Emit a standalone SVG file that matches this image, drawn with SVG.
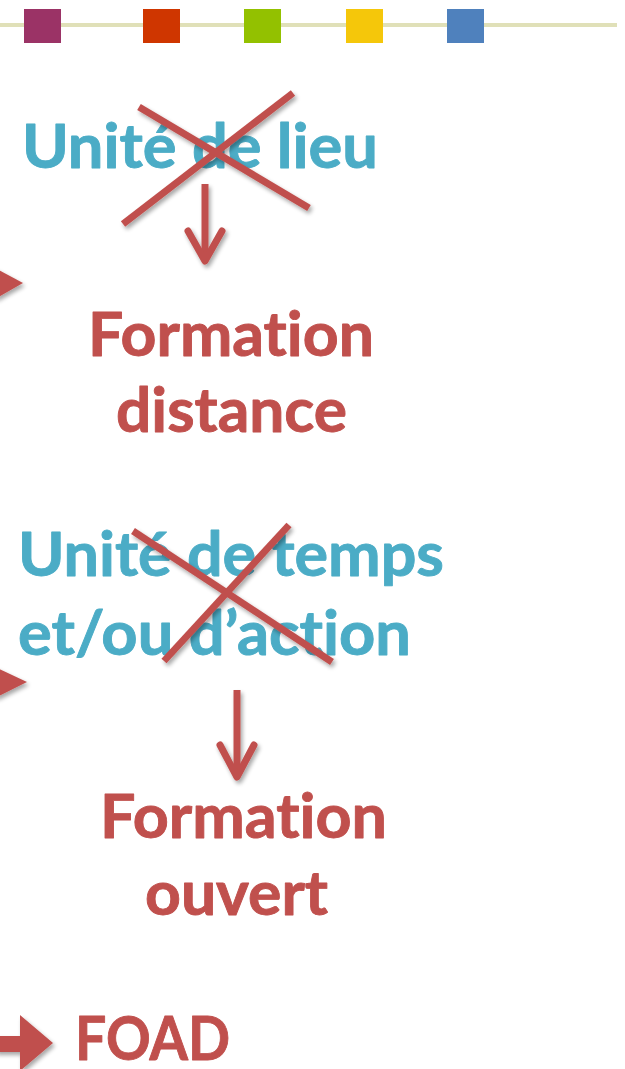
<svg xmlns="http://www.w3.org/2000/svg" width="625" height="1069" viewBox="0 0 625 1069">
<style>
  text { font-family: Lato, "Open Sans", sans-serif; font-weight: bold; font-size: 61px; font-variant-ligatures: none; font-feature-settings: "liga" 0, "clig" 0; stroke-width: 0.9; stroke-linejoin: round; }
  .blue { fill: #4bacc6; stroke: #4bacc6; }
  .red { fill: #c0504d; stroke: #c0504d; }
  .stroke { stroke: #c0504d; stroke-width: 7; fill: none; stroke-linecap: butt; }
  .head { stroke: #c0504d; stroke-width: 7; fill: none; stroke-linecap: round; stroke-linejoin: round; }
  .block { fill: #c0504d; }
</style>
<defs>
  <filter id="sh" x="-20%" y="-20%" width="140%" height="140%">
    <feGaussianBlur in="SourceAlpha" stdDeviation="2"/>
    <feOffset dx="2" dy="3" result="b"/>
    <feComponentTransfer><feFuncA type="linear" slope="0.35"/></feComponentTransfer>
    <feMerge><feMergeNode/><feMergeNode in="SourceGraphic"/></feMerge>
  </filter>
</defs>
<rect width="625" height="1069" fill="#ffffff"/>
<g id="topbar">
  <rect x="0" y="23" width="617" height="4" fill="#e0e0b8"/>
  <rect x="24" y="9" width="37" height="34" fill="#9b3366"/>
  <rect x="143" y="9" width="37" height="34" fill="#cf3600"/>
  <rect x="244" y="9" width="37" height="34" fill="#93c100"/>
  <rect x="346" y="9" width="37" height="34" fill="#f5c70a"/>
  <rect x="447" y="9" width="37" height="34" fill="#4f81bd"/>
</g>
<g id="unite-lieu">
  <text class="blue" x="22" y="168" textLength="356" lengthAdjust="spacingAndGlyphs">Unité de lieu</text>
</g>
<g id="formation-distance">
  <text class="red" x="88" y="356" textLength="286" lengthAdjust="spacingAndGlyphs">Formation</text>
  <text class="red" x="116" y="432" textLength="231" lengthAdjust="spacingAndGlyphs">distance</text>
</g>
<g id="unite-temps">
  <text class="blue" x="18" y="576" textLength="426" lengthAdjust="spacingAndGlyphs">Unité de temps</text>
  <text class="blue" x="18" y="655" textLength="393" lengthAdjust="spacingAndGlyphs">et/ou d’action</text>
</g>
<g id="formation-ouvert">
  <text class="red" x="100" y="838" textLength="287" lengthAdjust="spacingAndGlyphs">Formation</text>
  <text class="red" x="145" y="915" textLength="183" lengthAdjust="spacingAndGlyphs">ouvert</text>
</g>
<g id="foad">
  <text class="red" x="75" y="1060" textLength="155" lengthAdjust="spacingAndGlyphs">FOAD</text>
</g>
<g id="connectors" filter="url(#sh)">
  <line class="stroke" x1="123" y1="224" x2="293" y2="93"/>
  <line class="stroke" x1="139" y1="107" x2="309" y2="208"/>
  <line class="stroke" x1="205" y1="184" x2="205" y2="260"/>
  <polyline class="head" points="188,231 205,261 222,231"/>
  <line class="stroke" x1="133" y1="531" x2="332" y2="662"/>
  <line class="stroke" x1="289" y1="525" x2="164" y2="661"/>
  <line class="stroke" x1="237" y1="690" x2="237" y2="776"/>
  <polyline class="head" points="220,745 237,777 254,745"/>
  <polygon class="block" points="-5,268 23,283 -5,299"/>
  <polygon class="block" points="-5,667 27,682 -5,698"/>
  <polygon class="block" points="-5,1036 20,1036 20,1015 53,1043 20,1071 20,1052 -5,1052"/>
</g>
</svg>
